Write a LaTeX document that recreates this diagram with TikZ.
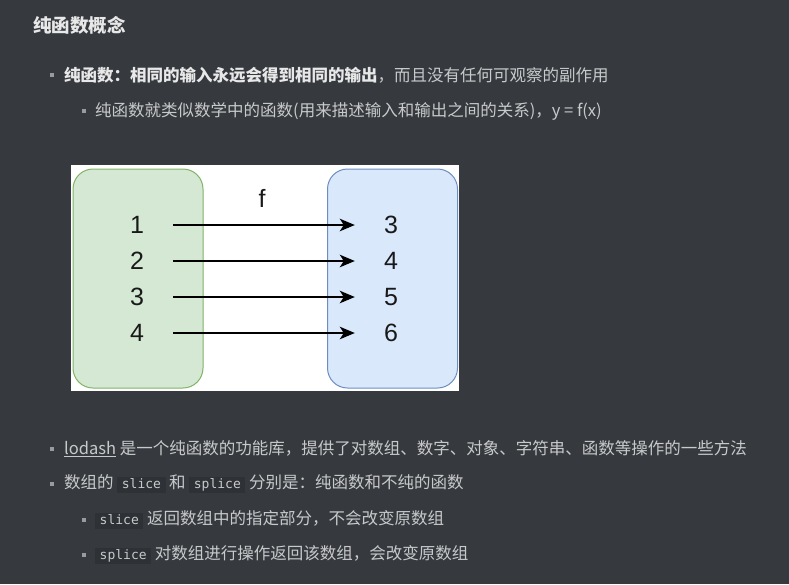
\documentclass[tikz,border=0pt]{standalone}
\usepackage{fontspec}
\setmainfont{Noto Sans CJK SC}
\newfontfamily\digitfont{Liberation Sans}
\newfontfamily\monofont{DejaVu Sans Mono}
\usetikzlibrary{arrows.meta,positioning}
\definecolor{pagebg}{HTML}{363A3F}
\definecolor{codebg}{HTML}{2E3135}
\definecolor{bodytext}{HTML}{C8C9CA}
\definecolor{strongtext}{HTML}{E8E8E8}
\definecolor{bulletgray}{HTML}{9A9B9C}
\definecolor{setgreen}{HTML}{D5E8D4}
\definecolor{setgreenline}{HTML}{82B366}
\definecolor{setblue}{HTML}{DAE8FC}
\definecolor{setblueline}{HTML}{6C8EBF}
\newcommand\codeword[1]{{\setlength{\fboxsep}{1.5pt}\colorbox{codebg}{\hspace{3pt}\monofont\fontsize{13}{15}\selectfont\vphantom{lp}#1\hspace{3pt}}}}
\tikzset{
  bodyline/.style={anchor=west, inner sep=0pt, text=bodytext, font=\fontsize{16.5}{20}\selectfont},
  setbox/.style={rounded corners=20pt, line width=1pt, minimum width=130pt, minimum height=219pt},
  num/.style={font=\digitfont\fontsize{25}{30}\selectfont, text=black!90, minimum width=72pt, minimum height=20pt, inner sep=0pt},
  mapsto/.style={-{Stealth[length=15pt,width=12.5pt,inset=4pt]}, line width=1.8pt}
}
\begin{document}
\begin{tikzpicture}[x=1pt,y=-1pt]
    \fill[pagebg] (0,0) rectangle (789,584);
    \node[bodyline, text=strongtext, font=\fontsize{18.5}{22}\selectfont\bfseries] (title) at (33,25) {纯函数概念};
    % first list
    \fill[bulletgray] (50,73) rectangle (54,77);
    \node[bodyline] (pure) at (64,75) {\textcolor{strongtext}{\bfseries 纯函数：相同的输入永远会得到相同的输出}，而且没有任何可观察的副作用};
    \fill[bulletgray] (82,109) rectangle (86,113);
    \node[bodyline] (math) at (95,111) {纯函数就类似数学中的函数(用来描述输入和输出之间的关系)，y = f(x)};
    % mapping figure
    \fill[white] (71,165) rectangle (459,391);
    \node[setbox, draw=setgreenline, fill=setgreen] (domain) at (138,278.5) {};
    \node[setbox, draw=setblueline, fill=setblue] (range) at (392.5,278.5) {};
    \node[num] (in1) at (137,225) {1};
    \node[num] (in2) at (137,261) {2};
    \node[num] (in3) at (137,297) {3};
    \node[num] (in4) at (137,333) {4};
    \node[num] (out1) at (391,225) {3};
    \node[num] (out2) at (391,261) {4};
    \node[num] (out3) at (391,297) {5};
    \node[num] (out4) at (391,333) {6};
    \node[num, minimum width=0pt] (fname) at (262,198) {f};
    \draw[mapsto] (in1) -- (out1);
    \draw[mapsto] (in2) -- (out2);
    \draw[mapsto] (in3) -- (out3);
    \draw[mapsto] (in4) -- (out4);
    % second list
    \fill[bulletgray] (50,447) rectangle (54,451);
    \node[bodyline] (lodash) at (64,449) {\underline{lodash} 是一个纯函数的功能库，提供了对数组、数字、对象、字符串、函数等操作的一些方法};
    \fill[bulletgray] (50,482) rectangle (54,486);
    \node[bodyline] (arrays) at (64,484) {数组的 \codeword{slice} 和 \codeword{splice} 分别是：纯函数和不纯的函数};
    \fill[bulletgray] (82,518) rectangle (86,522);
    \node[bodyline] (slice) at (95,520) {\codeword{slice} 返回数组中的指定部分，不会改变原数组};
    \fill[bulletgray] (82,553) rectangle (86,557);
    \node[bodyline] (splice) at (95,555) {\codeword{splice} 对数组进行操作返回该数组，会改变原数组};
\end{tikzpicture}
\end{document}
